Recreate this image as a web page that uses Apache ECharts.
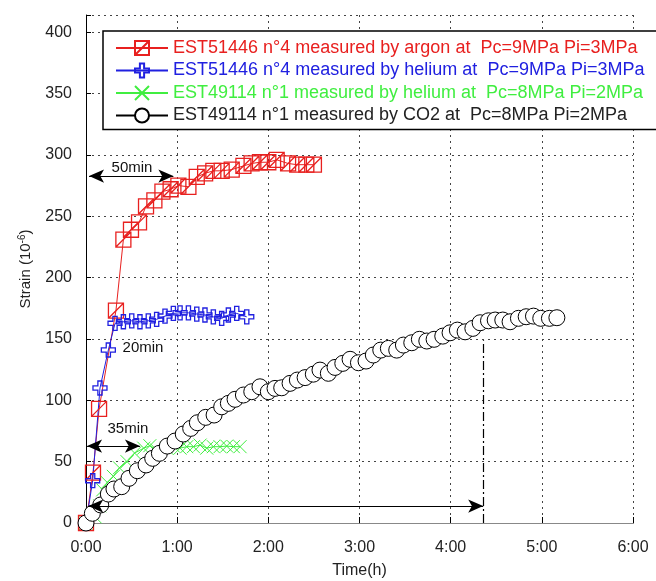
<!DOCTYPE html>
<html>
<head>
<meta charset="utf-8">
<script src="https://cdn.jsdelivr.net/npm/echarts@6/dist/echarts.min.js"></script>
<style>html,body{margin:0;padding:0;background:#fff}#c{width:656px;height:581px}</style>
</head>
<body>
<div id="c"></div>
<script>
// ---- data (time in minutes, strain in 1e-6) ----
const xTicks = ['0:00','1:00','2:00','3:00','4:00','5:00','6:00'];
const yTicks = [0,50,100,150,200,250,300,350,400];

const seriesNames = [
  'EST51446 n°4 measured by argon at  Pc=9MPa Pi=3MPa',
  'EST51446 n°4 measured by helium at  Pc=9MPa Pi=3MPa',
  'EST49114 n°1 measured by helium at  Pc=8MPa Pi=2MPa',
  'EST49114 n°1 measured by CO2 at  Pc=8MPa Pi=2MPa'
];

const argonT = [0,4.6,8.6,19.7,24.6,29.6,34.9,39.5,45,50.3,55.7,60.8,67.4,72.9,78.4,83.8,89.3,95.9,103.6,109,114.5,120,125.5,133,139,145,150];
const argonS = [0,41,93,173,231,239,245,258,263,270,272,275,274,282,285,287,287,288,291,293,294,294,296,293,292,292,292];

const heliumAT = [0,4.4,9.2,14.7,19.1,24.6,30.1,35.5,41,46.5,52,57.5,61.9,67.4,72.9,78.3,83.8,89.3,93.7,99.2,105.8];
const heliumAS = [0,34.5,110,141,162.7,164,164.8,164,164.8,166,168.6,170.8,171.3,171.3,170.3,169.5,168,166.8,169.5,170.8,168];

const heliumBT = [0,6,9,11,14,18,22,27,32,38,42,46.5,53.1,57.5,61.9,66.3,70.7,75.1,79.5,83.8,88.2,92.6,97,101.4];
const heliumBS = [0,5,14,27,33,38,45,50,57,61,63,59.5,61,62.7,61,62.2,62.2,63.5,61,62.2,62.2,62.7,62.2,62.2];

const co2T = [0,4.2,9.7,14.7,18.4,23.5,28.3,33.8,39.5,43.9,48.3,53.5,58.6,64,68.9,73.3,78.8,84.3,89.3,93.7,98.1,103.6,109.1,114.5,120,124.4,128.8,134.3,139.1,144.2,149.6,154,159.5,163.9,169,173.8,179.3,184.3,189.1,194,199,204.5,208.9,214.4,219.4,224.3,229.1,234.8,239.6,244.4,249.5,254.6,259.4,264.9,269.3,274.3,279.1,284.6,289.7,294.5,299.3,305,309.9];
const co2S = [0,7.9,14.7,23.6,27.7,29.6,36.4,42.6,47.3,52.7,56.8,62.7,66.8,72.5,77.1,81.7,86.1,88,94.7,97.5,100.8,104.3,107,111,107,109.7,110.2,113.8,116.5,118.5,121.3,124.6,122,126.8,130.1,133.4,130.6,132,136.9,140.9,142.3,140.9,145,146.9,149.7,148.3,149.7,152.3,155,157.2,155.8,158.6,163.2,164.8,165.4,165.4,164,166.8,168.1,168.6,166.8,166.8,167.3];

// annotations: [t1, t2, strain, label, labelT, labelS]
const arrow50 = [2, 57.5, 282.7, '50min', 30.3, 289.5];
const arrow20 = [-2.5, 25.7, 150, '20min', 37.5, 142.5];
const arrow35 = [0.7, 35.5, 62.7, '35min', 27.6, 76.5];
const arrowLong = [1.5, 261.4, 13.8];
const dropLine = [261.4, 0, 149];

const zip = (a, b) => a.map((v, i) => [v, b[i]]);

const FONT = 'Liberation Sans, Arial, sans-serif';
const RED = '#e8201f', BLUE = '#2020e0', GREEN = '#40ee40', BLACK = '#000';

const chart = echarts.init(document.getElementById('c'), null, {renderer: 'canvas'});

const sqPath = 'path://M0,0 L10,0 L10,10 L0,10 Z M0,10 L10,0';
const plusPath = 'path://M3.5,0 L6.5,0 L6.5,3.5 L10,3.5 L10,6.5 L6.5,6.5 L6.5,10 L3.5,10 L3.5,6.5 L0,6.5 L0,3.5 L3.5,3.5 Z';
const xPath = 'path://M0,0 L10,10 M10,0 L0,10';

function arrowLine(a) {
  return [{coord: [a[0], a[2]], symbol: 'arrow'}, {coord: [a[1], a[2]], symbol: 'arrow'}];
}

const option = {
  animation: false,
  backgroundColor: '#fff',
  textStyle: {fontFamily: FONT},
  grid: {left: 86, right: 23, top: 15, bottom: 58, containLabel: false, outerBoundsMode: 'none'},
  legend: {
    data: [
      {name: seriesNames[0], textStyle: {color: RED}},
      {name: seriesNames[1], textStyle: {color: BLUE}},
      {name: seriesNames[2], textStyle: {color: GREEN}},
      {name: seriesNames[3], textStyle: {color: '#222'}}
    ],
    orient: 'vertical',
    left: 103, top: 31,
    padding: [8, 20, 5, 12],
    itemGap: 4.5,
    itemWidth: 52, itemHeight: 17.5,
    backgroundColor: '#fff',
    borderColor: '#000', borderWidth: 1.5, borderRadius: 0,
    textStyle: {fontFamily: FONT, fontSize: 18},
    selectedMode: false
  },
  xAxis: [{
    type: 'value', min: 0, max: 360, interval: 60,
    name: 'Time(h)', nameLocation: 'middle', nameGap: 40,
    nameTextStyle: {fontFamily: FONT, fontSize: 16, color: '#222'},
    axisLine: {show: true, onZero: false, lineStyle: {color: '#000', width: 1}},
    axisTick: {show: true, inside: true, length: 6, lineStyle: {color: '#000'}},
    axisLabel: {margin: 17, fontFamily: FONT, fontSize: 16, color: '#222',
      formatter: v => xTicks[Math.round(v / 60)] || ''},
    splitLine: {show: true, lineStyle: {color: '#444', type: [2, 4], width: 1}}
  }, {
    type: 'value', position: 'top', min: 0, max: 360, interval: 60,
    axisLine: {show: true, lineStyle: {color: '#888', width: 1}},
    axisTick: {show: false}, axisLabel: {show: false}, splitLine: {show: false}
  }],
  yAxis: {
    type: 'value', min: 0, max: 414, interval: 50,
    name: 'Strain (10{sup|-6})', nameLocation: 'middle', nameGap: 51, nameRotate: 90,
    nameTextStyle: {fontFamily: FONT, fontSize: 15, color: '#222',
      rich: {sup: {fontSize: 10, verticalAlign: 'top', fontFamily: FONT, color: '#222', padding: [0, 0, 8, 0]}}},
    axisLine: {show: true, lineStyle: {color: '#000', width: 1}},
    axisTick: {show: true, inside: true, length: 5, lineStyle: {color: '#000'}},
    axisLabel: {margin: 14, fontFamily: FONT, fontSize: 16, color: '#222',
      formatter: v => (yTicks.indexOf(v) >= 0 ? String(v) : '')},
    splitLine: {show: true, lineStyle: {color: '#444', type: [2, 4], width: 1}}
  },
  series: [
    {
      name: seriesNames[0], type: 'line', data: zip(argonT, argonS), clip: false,
      symbol: sqPath, symbolSize: 15, showAllSymbol: true,
      lineStyle: {color: RED, width: 1},
      itemStyle: {color: 'rgba(255,255,255,0)', borderColor: RED, borderWidth: 1.3}
    },
    {
      name: seriesNames[1], type: 'line', data: zip(heliumAT, heliumAS), clip: false,
      symbol: plusPath, symbolSize: 14, showAllSymbol: true,
      lineStyle: {color: BLUE, width: 1},
      itemStyle: {color: 'rgba(255,255,255,0)', borderColor: BLUE, borderWidth: 1.3}
    },
    {
      name: seriesNames[2], type: 'line', data: zip(heliumBT, heliumBS), clip: false,
      symbol: xPath, symbolSize: 13, showAllSymbol: true,
      lineStyle: {color: GREEN, width: 1},
      itemStyle: {color: 'rgba(255,255,255,0)', borderColor: GREEN, borderWidth: 1}
    },
    {
      name: seriesNames[3], type: 'line', data: zip(co2T, co2S), clip: false,
      symbol: 'circle', symbolSize: 16, showAllSymbol: true,
      lineStyle: {color: BLACK, width: 1},
      itemStyle: {color: '#fff', borderColor: BLACK, borderWidth: 1}
    },
    {
      name: 'annotations', type: 'line', data: [], clip: false, z: 5,
      markLine: {
        silent: true, animation: false,
        symbolSize: [10, 15],
        label: {show: false},
        lineStyle: {color: '#000', width: 1.2, type: 'solid'},
        emphasis: {disabled: true},
        data: [
          arrowLine(arrow50), arrowLine(arrow20), arrowLine(arrow35), arrowLine(arrowLong),
          [{coord: [dropLine[0], dropLine[1]], symbol: 'none', lineStyle: {type: [9, 3, 2, 3], width: 1.2}},
           {coord: [dropLine[0], dropLine[2]], symbol: 'none'}]
        ]
      },
      markPoint: {
        silent: true, animation: false,
        symbol: 'circle', symbolSize: 1,
        itemStyle: {color: 'rgba(0,0,0,0)'},
        label: {show: true, formatter: '{b}', position: 'inside', color: '#111', fontFamily: FONT, fontSize: 15},
        data: [arrow50, arrow20, arrow35].map(a => ({name: a[3], coord: [a[4], a[5]]}))
      }
    }
  ]
};
chart.setOption(option);
</script>
</body>
</html>
